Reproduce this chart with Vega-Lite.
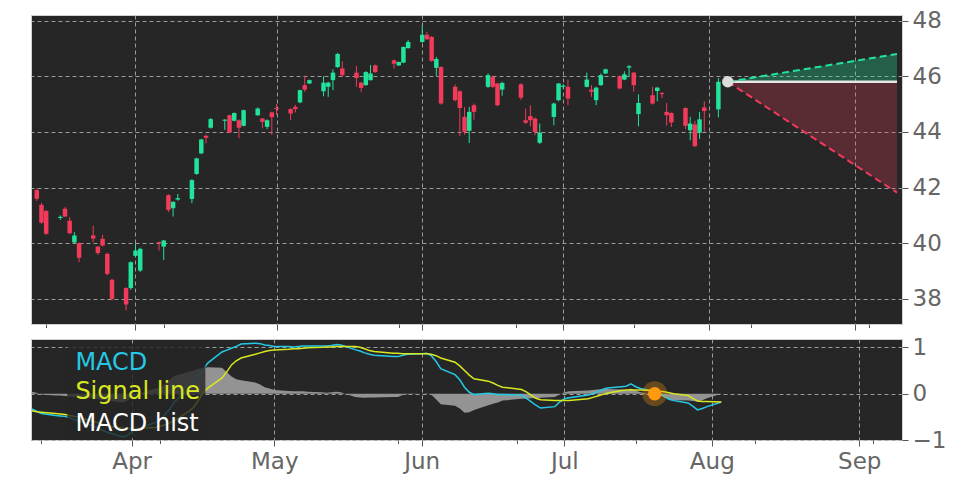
{
  "$schema": "https://vega.github.io/schema/vega-lite/v6.json",
  "background": "#ffffff",
  "padding": {"left": 28, "top": 9, "right": 5, "bottom": 0},
  "bounds": "flush",
  "spacing": 15,
  "config": {
    "font": "DejaVu Sans",
    "view": {"fill": "#262626", "stroke": "#d0d0d0", "strokeWidth": 1},
    "axis": {
      "domain": false,
      "grid": true,
      "gridColor": "#a8a8a8",
      "gridDash": [4, 3],
      "gridWidth": 0.9,
      "tickColor": "#555555",
      "tickSize": 6,
      "labelColor": "#666666",
      "labelFontSize": 23,
      "labelPadding": 4,
      "labelFlush": false,
      "labelOverlap": false
    }
  },
  "datasets": {
    "ohlc": [
      {"date": "2026-03-11", "open": 41.91, "high": 41.97, "low": 41.52, "close": 41.60},
      {"date": "2026-03-12", "open": 41.38, "high": 41.45, "low": 40.70, "close": 40.74},
      {"date": "2026-03-13", "open": 41.16, "high": 41.20, "low": 40.30, "close": 40.34},
      {"date": "2026-03-16", "open": 40.91, "high": 41.00, "low": 40.84, "close": 40.95},
      {"date": "2026-03-17", "open": 41.24, "high": 41.30, "low": 40.94, "close": 40.96},
      {"date": "2026-03-18", "open": 40.81, "high": 40.94, "low": 40.34, "close": 40.36},
      {"date": "2026-03-19", "open": 40.03, "high": 40.40, "low": 39.98, "close": 40.28},
      {"date": "2026-03-20", "open": 40.00, "high": 40.03, "low": 39.32, "close": 39.48},
      {"date": "2026-03-23", "open": 40.28, "high": 40.63, "low": 40.04, "close": 40.17},
      {"date": "2026-03-24", "open": 39.88, "high": 39.90, "low": 39.58, "close": 39.65},
      {"date": "2026-03-25", "open": 40.16, "high": 40.30, "low": 39.88, "close": 39.92},
      {"date": "2026-03-26", "open": 39.62, "high": 39.66, "low": 38.85, "close": 38.90},
      {"date": "2026-03-27", "open": 38.69, "high": 38.72, "low": 37.95, "close": 38.00},
      {"date": "2026-03-30", "open": 38.39, "high": 38.42, "low": 37.59, "close": 37.80},
      {"date": "2026-03-31", "open": 38.39, "high": 39.35, "low": 38.33, "close": 39.32},
      {"date": "2026-04-01", "open": 39.55, "high": 39.98, "low": 39.50, "close": 39.74},
      {"date": "2026-04-02", "open": 39.02, "high": 39.84, "low": 38.97, "close": 39.80},
      {"date": "2026-04-06", "open": 40.04, "high": 40.06, "low": 39.74, "close": 40.00},
      {"date": "2026-04-07", "open": 39.88, "high": 40.12, "low": 39.40, "close": 40.10},
      {"date": "2026-04-08", "open": 41.73, "high": 41.76, "low": 41.12, "close": 41.20},
      {"date": "2026-04-09", "open": 41.26, "high": 41.50, "low": 40.96, "close": 41.49},
      {"date": "2026-04-10", "open": 41.57, "high": 41.77, "low": 41.53, "close": 41.62},
      {"date": "2026-04-13", "open": 41.59, "high": 42.30, "low": 41.44, "close": 42.27},
      {"date": "2026-04-14", "open": 42.49, "high": 43.07, "low": 42.46, "close": 43.05},
      {"date": "2026-04-15", "open": 43.23, "high": 43.75, "low": 43.20, "close": 43.73},
      {"date": "2026-04-16", "open": 43.86, "high": 43.90, "low": 43.59, "close": 43.79},
      {"date": "2026-04-17", "open": 44.15, "high": 44.50, "low": 44.12, "close": 44.46},
      {"date": "2026-04-20", "open": 44.40, "high": 44.46, "low": 44.07, "close": 44.44},
      {"date": "2026-04-21", "open": 44.60, "high": 44.62, "low": 43.97, "close": 43.98},
      {"date": "2026-04-22", "open": 44.40, "high": 44.70, "low": 44.38, "close": 44.68},
      {"date": "2026-04-23", "open": 44.42, "high": 44.45, "low": 43.77, "close": 44.15},
      {"date": "2026-04-24", "open": 44.22, "high": 44.80, "low": 44.20, "close": 44.78},
      {"date": "2026-04-27", "open": 44.60, "high": 44.88, "low": 44.57, "close": 44.84},
      {"date": "2026-04-28", "open": 44.48, "high": 44.50, "low": 44.13, "close": 44.36},
      {"date": "2026-04-29", "open": 44.18, "high": 44.45, "low": 44.10, "close": 44.42},
      {"date": "2026-04-30", "open": 44.70, "high": 44.73, "low": 43.89, "close": 44.53},
      {"date": "2026-05-01", "open": 44.86, "high": 45.00, "low": 44.62, "close": 44.82},
      {"date": "2026-05-04", "open": 44.82, "high": 44.85, "low": 44.42, "close": 44.66},
      {"date": "2026-05-05", "open": 44.90, "high": 44.97, "low": 44.70, "close": 44.82},
      {"date": "2026-05-06", "open": 45.06, "high": 45.52, "low": 45.03, "close": 45.50},
      {"date": "2026-05-07", "open": 45.68, "high": 46.02, "low": 45.44, "close": 45.52},
      {"date": "2026-05-08", "open": 45.74, "high": 45.88, "low": 45.72, "close": 45.86},
      {"date": "2026-05-11", "open": 45.46, "high": 46.00, "low": 45.28, "close": 45.77},
      {"date": "2026-05-12", "open": 45.62, "high": 45.80, "low": 45.26, "close": 45.77},
      {"date": "2026-05-13", "open": 45.86, "high": 46.25, "low": 45.50, "close": 46.13},
      {"date": "2026-05-14", "open": 46.33, "high": 46.84, "low": 46.30, "close": 46.80},
      {"date": "2026-05-15", "open": 46.28, "high": 46.54, "low": 45.98, "close": 46.04},
      {"date": "2026-05-18", "open": 46.13, "high": 46.37, "low": 45.62, "close": 45.94},
      {"date": "2026-05-19", "open": 45.77, "high": 45.80, "low": 45.44, "close": 45.58},
      {"date": "2026-05-20", "open": 45.68, "high": 46.18, "low": 45.66, "close": 46.15},
      {"date": "2026-05-21", "open": 45.86, "high": 46.40, "low": 45.84, "close": 46.10},
      {"date": "2026-05-22", "open": 46.39, "high": 46.42, "low": 46.12, "close": 46.15},
      {"date": "2026-05-26", "open": 46.57, "high": 46.60, "low": 46.28, "close": 46.45},
      {"date": "2026-05-27", "open": 46.39, "high": 46.53, "low": 46.37, "close": 46.51},
      {"date": "2026-05-28", "open": 46.49, "high": 47.07, "low": 46.47, "close": 47.05},
      {"date": "2026-05-29", "open": 47.01, "high": 47.30, "low": 46.99, "close": 47.23},
      {"date": "2026-06-01", "open": 47.23, "high": 47.82, "low": 47.20, "close": 47.49},
      {"date": "2026-06-02", "open": 47.49, "high": 47.60, "low": 47.30, "close": 47.33},
      {"date": "2026-06-03", "open": 47.41, "high": 47.45, "low": 46.52, "close": 46.55},
      {"date": "2026-06-04", "open": 46.30, "high": 46.70, "low": 46.00, "close": 46.62},
      {"date": "2026-06-05", "open": 46.33, "high": 46.36, "low": 44.98, "close": 45.02},
      {"date": "2026-06-08", "open": 45.62, "high": 45.70, "low": 45.10, "close": 45.14},
      {"date": "2026-06-09", "open": 45.46, "high": 45.50, "low": 43.85, "close": 44.86},
      {"date": "2026-06-10", "open": 44.54, "high": 44.90, "low": 43.90, "close": 44.00},
      {"date": "2026-06-11", "open": 44.04, "high": 44.90, "low": 43.60, "close": 44.72},
      {"date": "2026-06-12", "open": 44.96, "high": 45.02, "low": 44.44, "close": 44.72},
      {"date": "2026-06-15", "open": 45.62, "high": 46.10, "low": 45.58, "close": 46.04},
      {"date": "2026-06-16", "open": 45.98, "high": 46.02, "low": 45.58, "close": 45.62},
      {"date": "2026-06-17", "open": 45.74, "high": 45.76, "low": 44.92, "close": 44.96},
      {"date": "2026-06-18", "open": 45.52, "high": 45.80, "low": 45.30, "close": 45.76},
      {"date": "2026-06-22", "open": 45.71, "high": 45.75, "low": 45.15, "close": 45.23},
      {"date": "2026-06-23", "open": 44.42, "high": 44.84, "low": 44.28, "close": 44.33},
      {"date": "2026-06-24", "open": 44.57, "high": 44.96, "low": 44.20, "close": 44.42},
      {"date": "2026-06-25", "open": 44.48, "high": 44.52, "low": 43.88, "close": 44.00},
      {"date": "2026-06-26", "open": 43.61, "high": 44.30, "low": 43.56, "close": 43.97},
      {"date": "2026-06-29", "open": 44.54, "high": 45.05, "low": 44.24, "close": 45.02},
      {"date": "2026-06-30", "open": 45.14, "high": 45.76, "low": 45.10, "close": 45.74},
      {"date": "2026-07-01", "open": 45.62, "high": 45.72, "low": 45.55, "close": 45.66},
      {"date": "2026-07-02", "open": 45.62, "high": 45.88, "low": 44.96, "close": 45.20},
      {"date": "2026-07-06", "open": 45.62, "high": 46.13, "low": 45.60, "close": 45.88},
      {"date": "2026-07-07", "open": 45.52, "high": 45.68, "low": 45.26, "close": 45.44},
      {"date": "2026-07-08", "open": 45.14, "high": 45.62, "low": 44.96, "close": 45.59},
      {"date": "2026-07-09", "open": 45.68, "high": 46.10, "low": 45.66, "close": 46.04},
      {"date": "2026-07-10", "open": 46.10, "high": 46.27, "low": 46.08, "close": 46.25},
      {"date": "2026-07-13", "open": 46.00, "high": 46.03, "low": 45.53, "close": 45.56},
      {"date": "2026-07-14", "open": 45.88, "high": 46.18, "low": 45.86, "close": 46.07},
      {"date": "2026-07-15", "open": 46.31, "high": 46.40, "low": 45.98, "close": 46.36},
      {"date": "2026-07-16", "open": 46.13, "high": 46.16, "low": 45.44, "close": 45.68},
      {"date": "2026-07-17", "open": 44.64, "high": 45.35, "low": 44.20, "close": 45.04},
      {"date": "2026-07-20", "open": 45.32, "high": 45.62, "low": 44.98, "close": 45.02},
      {"date": "2026-07-21", "open": 45.47, "high": 45.62, "low": 45.10, "close": 45.59},
      {"date": "2026-07-22", "open": 45.40, "high": 45.43, "low": 45.22, "close": 45.36},
      {"date": "2026-07-23", "open": 44.72, "high": 45.04, "low": 44.23, "close": 44.60},
      {"date": "2026-07-24", "open": 44.68, "high": 44.70, "low": 44.18, "close": 44.34},
      {"date": "2026-07-27", "open": 44.86, "high": 44.88, "low": 44.10, "close": 44.22},
      {"date": "2026-07-28", "open": 44.06, "high": 44.54, "low": 43.70, "close": 44.30},
      {"date": "2026-07-29", "open": 44.27, "high": 44.40, "low": 43.45, "close": 43.49},
      {"date": "2026-07-30", "open": 43.97, "high": 44.72, "low": 43.75, "close": 44.45},
      {"date": "2026-07-31", "open": 44.88, "high": 45.10, "low": 44.01, "close": 44.75},
      {"date": "2026-08-03", "open": 44.81, "high": 45.93, "low": 44.52, "close": 45.80}
    ],
    "macd": [
      {"date": "2026-03-11", "macd": -0.33, "signal": -0.37, "hist": 0.04},
      {"date": "2026-03-12", "macd": -0.38, "signal": -0.39, "hist": 0.02},
      {"date": "2026-03-13", "macd": -0.43, "signal": -0.40, "hist": -0.02},
      {"date": "2026-03-16", "macd": -0.47, "signal": -0.43, "hist": -0.04},
      {"date": "2026-03-17", "macd": -0.48, "signal": -0.44, "hist": -0.04},
      {"date": "2026-03-18", "macd": -0.49, "signal": -0.45, "hist": -0.05},
      {"date": "2026-03-19", "macd": -0.52, "signal": -0.47, "hist": -0.06},
      {"date": "2026-03-20", "macd": -0.56, "signal": -0.49, "hist": -0.07},
      {"date": "2026-03-23", "macd": -0.66, "signal": -0.57, "hist": -0.09},
      {"date": "2026-03-24", "macd": -0.70, "signal": -0.60, "hist": -0.10},
      {"date": "2026-03-25", "macd": -0.74, "signal": -0.63, "hist": -0.12},
      {"date": "2026-03-26", "macd": -0.80, "signal": -0.66, "hist": -0.14},
      {"date": "2026-03-27", "macd": -0.84, "signal": -0.70, "hist": -0.15},
      {"date": "2026-03-30", "macd": -0.93, "signal": -0.74, "hist": -0.19},
      {"date": "2026-03-31", "macd": -0.91, "signal": -0.75, "hist": -0.16},
      {"date": "2026-04-01", "macd": -0.82, "signal": -0.75, "hist": -0.08},
      {"date": "2026-04-02", "macd": -0.77, "signal": -0.75, "hist": -0.02},
      {"date": "2026-04-06", "macd": -0.62, "signal": -0.73, "hist": 0.11},
      {"date": "2026-04-07", "macd": -0.57, "signal": -0.70, "hist": 0.13},
      {"date": "2026-04-08", "macd": -0.45, "signal": -0.67, "hist": 0.21},
      {"date": "2026-04-09", "macd": -0.33, "signal": -0.63, "hist": 0.30},
      {"date": "2026-04-10", "macd": -0.18, "signal": -0.58, "hist": 0.38},
      {"date": "2026-04-13", "macd": 0.10, "signal": -0.38, "hist": 0.47},
      {"date": "2026-04-14", "macd": 0.21, "signal": -0.30, "hist": 0.50},
      {"date": "2026-04-15", "macd": 0.38, "signal": -0.15, "hist": 0.54},
      {"date": "2026-04-16", "macd": 0.52, "signal": 0.02, "hist": 0.55},
      {"date": "2026-04-17", "macd": 0.66, "signal": 0.12, "hist": 0.57},
      {"date": "2026-04-20", "macd": 0.90, "signal": 0.34, "hist": 0.56},
      {"date": "2026-04-21", "macd": 0.94, "signal": 0.47, "hist": 0.47},
      {"date": "2026-04-22", "macd": 0.98, "signal": 0.62, "hist": 0.37},
      {"date": "2026-04-23", "macd": 1.02, "signal": 0.71, "hist": 0.31},
      {"date": "2026-04-24", "macd": 1.07, "signal": 0.77, "hist": 0.29},
      {"date": "2026-04-27", "macd": 1.09, "signal": 0.85, "hist": 0.24},
      {"date": "2026-04-28", "macd": 1.08, "signal": 0.88, "hist": 0.20},
      {"date": "2026-04-29", "macd": 1.05, "signal": 0.91, "hist": 0.14},
      {"date": "2026-04-30", "macd": 1.04, "signal": 0.93, "hist": 0.11},
      {"date": "2026-05-01", "macd": 1.02, "signal": 0.94, "hist": 0.08},
      {"date": "2026-05-04", "macd": 1.02, "signal": 0.96, "hist": 0.06},
      {"date": "2026-05-05", "macd": 1.01, "signal": 0.97, "hist": 0.05},
      {"date": "2026-05-06", "macd": 1.02, "signal": 0.97, "hist": 0.05},
      {"date": "2026-05-07", "macd": 1.03, "signal": 0.98, "hist": 0.05},
      {"date": "2026-05-08", "macd": 1.03, "signal": 0.99, "hist": 0.04},
      {"date": "2026-05-11", "macd": 1.03, "signal": 1.00, "hist": 0.03},
      {"date": "2026-05-12", "macd": 1.03, "signal": 1.01, "hist": 0.02},
      {"date": "2026-05-13", "macd": 1.04, "signal": 1.01, "hist": 0.03},
      {"date": "2026-05-14", "macd": 1.06, "signal": 1.02, "hist": 0.04},
      {"date": "2026-05-15", "macd": 1.05, "signal": 1.02, "hist": 0.03},
      {"date": "2026-05-18", "macd": 0.95, "signal": 1.02, "hist": -0.07},
      {"date": "2026-05-19", "macd": 0.92, "signal": 1.00, "hist": -0.08},
      {"date": "2026-05-20", "macd": 0.88, "signal": 0.97, "hist": -0.09},
      {"date": "2026-05-21", "macd": 0.85, "signal": 0.93, "hist": -0.08},
      {"date": "2026-05-22", "macd": 0.83, "signal": 0.91, "hist": -0.08},
      {"date": "2026-05-26", "macd": 0.80, "signal": 0.87, "hist": -0.07},
      {"date": "2026-05-27", "macd": 0.80, "signal": 0.87, "hist": -0.07},
      {"date": "2026-05-28", "macd": 0.83, "signal": 0.86, "hist": -0.03},
      {"date": "2026-05-29", "macd": 0.85, "signal": 0.86, "hist": -0.01},
      {"date": "2026-06-01", "macd": 0.86, "signal": 0.86, "hist": 0.00},
      {"date": "2026-06-02", "macd": 0.87, "signal": 0.86, "hist": 0.01},
      {"date": "2026-06-03", "macd": 0.82, "signal": 0.85, "hist": -0.02},
      {"date": "2026-06-04", "macd": 0.70, "signal": 0.82, "hist": -0.12},
      {"date": "2026-06-05", "macd": 0.54, "signal": 0.77, "hist": -0.23},
      {"date": "2026-06-08", "macd": 0.41, "signal": 0.68, "hist": -0.26},
      {"date": "2026-06-09", "macd": 0.30, "signal": 0.60, "hist": -0.32},
      {"date": "2026-06-10", "macd": 0.14, "signal": 0.50, "hist": -0.41},
      {"date": "2026-06-11", "macd": 0.03, "signal": 0.40, "hist": -0.40},
      {"date": "2026-06-12", "macd": -0.02, "signal": 0.32, "hist": -0.35},
      {"date": "2026-06-15", "macd": 0.01, "signal": 0.27, "hist": -0.25},
      {"date": "2026-06-16", "macd": 0.00, "signal": 0.23, "hist": -0.22},
      {"date": "2026-06-17", "macd": -0.02, "signal": 0.18, "hist": -0.19},
      {"date": "2026-06-18", "macd": -0.02, "signal": 0.14, "hist": -0.15},
      {"date": "2026-06-22", "macd": -0.03, "signal": 0.09, "hist": -0.11},
      {"date": "2026-06-23", "macd": -0.10, "signal": 0.04, "hist": -0.11},
      {"date": "2026-06-24", "macd": -0.17, "signal": -0.03, "hist": -0.10},
      {"date": "2026-06-25", "macd": -0.25, "signal": -0.10, "hist": -0.10},
      {"date": "2026-06-26", "macd": -0.31, "signal": -0.13, "hist": -0.09},
      {"date": "2026-06-29", "macd": -0.28, "signal": -0.15, "hist": -0.07},
      {"date": "2026-06-30", "macd": -0.18, "signal": -0.15, "hist": -0.02},
      {"date": "2026-07-01", "macd": -0.11, "signal": -0.15, "hist": 0.03},
      {"date": "2026-07-02", "macd": -0.09, "signal": -0.15, "hist": 0.05},
      {"date": "2026-07-06", "macd": -0.03, "signal": -0.11, "hist": 0.07},
      {"date": "2026-07-07", "macd": 0.00, "signal": -0.08, "hist": 0.08},
      {"date": "2026-07-08", "macd": 0.04, "signal": -0.05, "hist": 0.09},
      {"date": "2026-07-09", "macd": 0.09, "signal": -0.02, "hist": 0.10},
      {"date": "2026-07-10", "macd": 0.12, "signal": 0.01, "hist": 0.10},
      {"date": "2026-07-13", "macd": 0.15, "signal": 0.07, "hist": 0.09},
      {"date": "2026-07-14", "macd": 0.16, "signal": 0.08, "hist": 0.08},
      {"date": "2026-07-15", "macd": 0.21, "signal": 0.08, "hist": 0.11},
      {"date": "2026-07-16", "macd": 0.15, "signal": 0.08, "hist": 0.07},
      {"date": "2026-07-17", "macd": 0.11, "signal": 0.08, "hist": 0.03},
      {"date": "2026-07-20", "macd": 0.04, "signal": 0.07, "hist": -0.03},
      {"date": "2026-07-21", "macd": 0.02, "signal": 0.05, "hist": -0.03},
      {"date": "2026-07-22", "macd": -0.06, "signal": 0.04, "hist": -0.08},
      {"date": "2026-07-23", "macd": -0.12, "signal": 0.02, "hist": -0.12},
      {"date": "2026-07-24", "macd": -0.15, "signal": 0.00, "hist": -0.14},
      {"date": "2026-07-27", "macd": -0.20, "signal": -0.04, "hist": -0.15},
      {"date": "2026-07-28", "macd": -0.27, "signal": -0.10, "hist": -0.16},
      {"date": "2026-07-29", "macd": -0.35, "signal": -0.16, "hist": -0.17},
      {"date": "2026-07-30", "macd": -0.32, "signal": -0.17, "hist": -0.14},
      {"date": "2026-07-31", "macd": -0.28, "signal": -0.17, "hist": -0.10},
      {"date": "2026-08-03", "macd": -0.18, "signal": -0.18, "hist": 0.00}
    ],
    "forecast": [
      {"date": "2026-08-05", "base": 45.8, "up": 45.8, "down": 45.8},
      {"date": "2026-09-10", "base": 45.8, "up": 46.8, "down": 41.82}
    ],
    "last": [
      {"date": "2026-08-05", "price": 45.8}
    ],
    "cross": [
      {"date": "2026-07-20", "value": 0}
    ],
    "legendbox": [
      {"date": "2026-03-18T11:00:00Z", "end": "2026-04-16T12:00:00Z", "top": 1.04, "bottom": -0.96}
    ],
    "legend": [
      {"date": "2026-03-20T04:00:00Z", "label": "MACD", "value": 0.66},
      {"date": "2026-03-20T04:00:00Z", "label": "Signal line", "value": 0.03},
      {"date": "2026-03-20T04:00:00Z", "label": "MACD hist", "value": -0.65}
    ]
  },
  "vconcat": [
    {
      "width": 871,
      "height": 309,
      "encoding": {
        "x": {
          "field": "date",
          "type": "temporal",
          "scale": {
            "type": "utc",
            "domain": [
              {"year": 2026, "month": 3, "date": 10, "hours": 20, "utc": true},
              {"year": 2026, "month": 9, "date": 10, "utc": true}
            ]
          },
          "axis": {
            "title": null,
            "labels": false,
            "values": [
              {"year": 2026, "month": 3, "date": 13, "utc": true},
              {"year": 2026, "month": 4, "date": 1, "utc": true},
              {"year": 2026, "month": 4, "date": 7, "utc": true},
              {"year": 2026, "month": 5, "date": 1, "utc": true},
              {"year": 2026, "month": 5, "date": 27, "utc": true},
              {"year": 2026, "month": 6, "date": 1, "utc": true},
              {"year": 2026, "month": 6, "date": 21, "utc": true},
              {"year": 2026, "month": 7, "date": 1, "utc": true},
              {"year": 2026, "month": 7, "date": 16, "utc": true},
              {"year": 2026, "month": 8, "date": 1, "utc": true},
              {"year": 2026, "month": 8, "date": 10, "utc": true},
              {"year": 2026, "month": 9, "date": 1, "utc": true},
              {"year": 2026, "month": 9, "date": 4, "utc": true}
            ],
            "tickSize": {"condition": {"test": "utcdate(datum.value) === 1", "value": 6}, "value": 3.5},
            "gridOpacity": {"condition": {"test": "utcdate(datum.value) === 1", "value": 1}, "value": 0}
          }
        }
      },
      "layer": [
        {
          "data": {"name": "ohlc"},
          "mark": {"type": "rule", "strokeWidth": 1},
          "encoding": {
            "y": {
              "field": "low",
              "type": "quantitative",
              "scale": {"domain": [37.1, 48.2], "nice": false, "zero": false},
              "axis": {"title": null, "orient": "right", "values": [38, 40, 42, 44, 46, 48]}
            },
            "y2": {"field": "high"},
            "color": {"condition": {"test": "datum.close >= datum.open", "value": "#22e39b"}, "value": "#f23a5a"}
          }
        },
        {
          "data": {"name": "ohlc"},
          "mark": {"type": "bar", "width": 4.5},
          "encoding": {
            "y": {"field": "open", "type": "quantitative", "title": null},
            "y2": {"field": "close"},
            "color": {"condition": {"test": "datum.close >= datum.open", "value": "#22e39b"}, "value": "#f23a5a"}
          }
        },
        {
          "data": {"name": "forecast"},
          "mark": {"type": "area", "color": "#22e39b", "opacity": 0.3},
          "encoding": {
            "y": {"field": "base", "type": "quantitative", "title": null},
            "y2": {"field": "up"}
          }
        },
        {
          "data": {"name": "forecast"},
          "mark": {"type": "area", "color": "#f23a5a", "opacity": 0.25},
          "encoding": {
            "y": {"field": "base", "type": "quantitative", "title": null},
            "y2": {"field": "down"}
          }
        },
        {
          "data": {"name": "forecast"},
          "mark": {"type": "line", "color": "#e6e6e6", "strokeWidth": 2.5},
          "encoding": {
            "y": {"field": "base", "type": "quantitative", "title": null}
          }
        },
        {
          "data": {"name": "forecast"},
          "mark": {"type": "line", "color": "#22e39b", "strokeWidth": 2, "strokeDash": [7, 4]},
          "encoding": {
            "y": {"field": "up", "type": "quantitative", "title": null}
          }
        },
        {
          "data": {"name": "forecast"},
          "mark": {"type": "line", "color": "#f23a5a", "strokeWidth": 2, "strokeDash": [7, 4]},
          "encoding": {
            "y": {"field": "down", "type": "quantitative", "title": null}
          }
        },
        {
          "data": {"name": "last"},
          "mark": {"type": "circle", "color": "#dcdcdc", "opacity": 1, "size": 130},
          "encoding": {
            "y": {"field": "price", "type": "quantitative", "title": null}
          }
        }
      ]
    },
    {
      "width": 871,
      "height": 101,
      "encoding": {
        "x": {
          "field": "date",
          "type": "temporal",
          "scale": {
            "type": "utc",
            "domain": [
              {"year": 2026, "month": 3, "date": 10, "hours": 20, "utc": true},
              {"year": 2026, "month": 9, "date": 10, "utc": true}
            ]
          },
          "axis": {
            "title": null,
            "values": [
              {"year": 2026, "month": 3, "date": 13, "utc": true},
              {"year": 2026, "month": 4, "date": 1, "utc": true},
              {"year": 2026, "month": 4, "date": 7, "utc": true},
              {"year": 2026, "month": 5, "date": 1, "utc": true},
              {"year": 2026, "month": 5, "date": 27, "utc": true},
              {"year": 2026, "month": 6, "date": 1, "utc": true},
              {"year": 2026, "month": 6, "date": 21, "utc": true},
              {"year": 2026, "month": 7, "date": 1, "utc": true},
              {"year": 2026, "month": 7, "date": 16, "utc": true},
              {"year": 2026, "month": 8, "date": 1, "utc": true},
              {"year": 2026, "month": 8, "date": 10, "utc": true},
              {"year": 2026, "month": 9, "date": 1, "utc": true},
              {"year": 2026, "month": 9, "date": 4, "utc": true}
            ],
            "labelExpr": "utcdate(datum.value) === 1 ? utcFormat(datum.value, '%b') : ''",
            "tickSize": {"condition": {"test": "utcdate(datum.value) === 1", "value": 6}, "value": 3.5},
            "gridOpacity": {"condition": {"test": "utcdate(datum.value) === 1", "value": 1}, "value": 0}
          }
        }
      },
      "layer": [
        {
          "data": {"name": "macd"},
          "mark": {"type": "area", "color": "#939393", "opacity": 1},
          "encoding": {
            "y": {
              "field": "hist",
              "type": "quantitative",
              "scale": {"domain": [-1, 1.18], "nice": false, "zero": false},
              "axis": {"title": null, "orient": "right", "values": [-1, 0, 1]}
            },
            "y2": {"datum": 0}
          }
        },
        {
          "data": {"name": "macd"},
          "mark": {"type": "line", "color": "#25c9e6", "strokeWidth": 1.5},
          "encoding": {
            "y": {"field": "macd", "type": "quantitative", "title": null}
          }
        },
        {
          "data": {"name": "macd"},
          "mark": {"type": "line", "color": "#d8e820", "strokeWidth": 1.5},
          "encoding": {
            "y": {"field": "signal", "type": "quantitative", "title": null}
          }
        },
        {
          "data": {"name": "cross"},
          "mark": {"type": "circle", "color": "#ff9a0f", "opacity": 0.3, "size": 620},
          "encoding": {
            "y": {"field": "value", "type": "quantitative", "title": null}
          }
        },
        {
          "data": {"name": "cross"},
          "mark": {"type": "circle", "color": "#ff9a0f", "opacity": 1, "size": 180},
          "encoding": {
            "y": {"field": "value", "type": "quantitative", "title": null}
          }
        },
        {
          "data": {"name": "legendbox"},
          "mark": {"type": "rect", "color": "#262626", "opacity": 0.8},
          "encoding": {
            "x2": {"field": "end"},
            "y": {"field": "top", "type": "quantitative", "title": null},
            "y2": {"field": "bottom"}
          }
        },
        {
          "data": {"name": "legend"},
          "mark": {"type": "text", "align": "left", "baseline": "middle", "fontSize": 24},
          "encoding": {
            "y": {"field": "value", "type": "quantitative", "title": null},
            "text": {"field": "label"},
            "color": {
              "field": "label",
              "type": "nominal",
              "scale": {"domain": ["MACD", "Signal line", "MACD hist"], "range": ["#25c9e6", "#d8e820", "#ffffff"]},
              "legend": null
            }
          }
        }
      ]
    }
  ]
}
